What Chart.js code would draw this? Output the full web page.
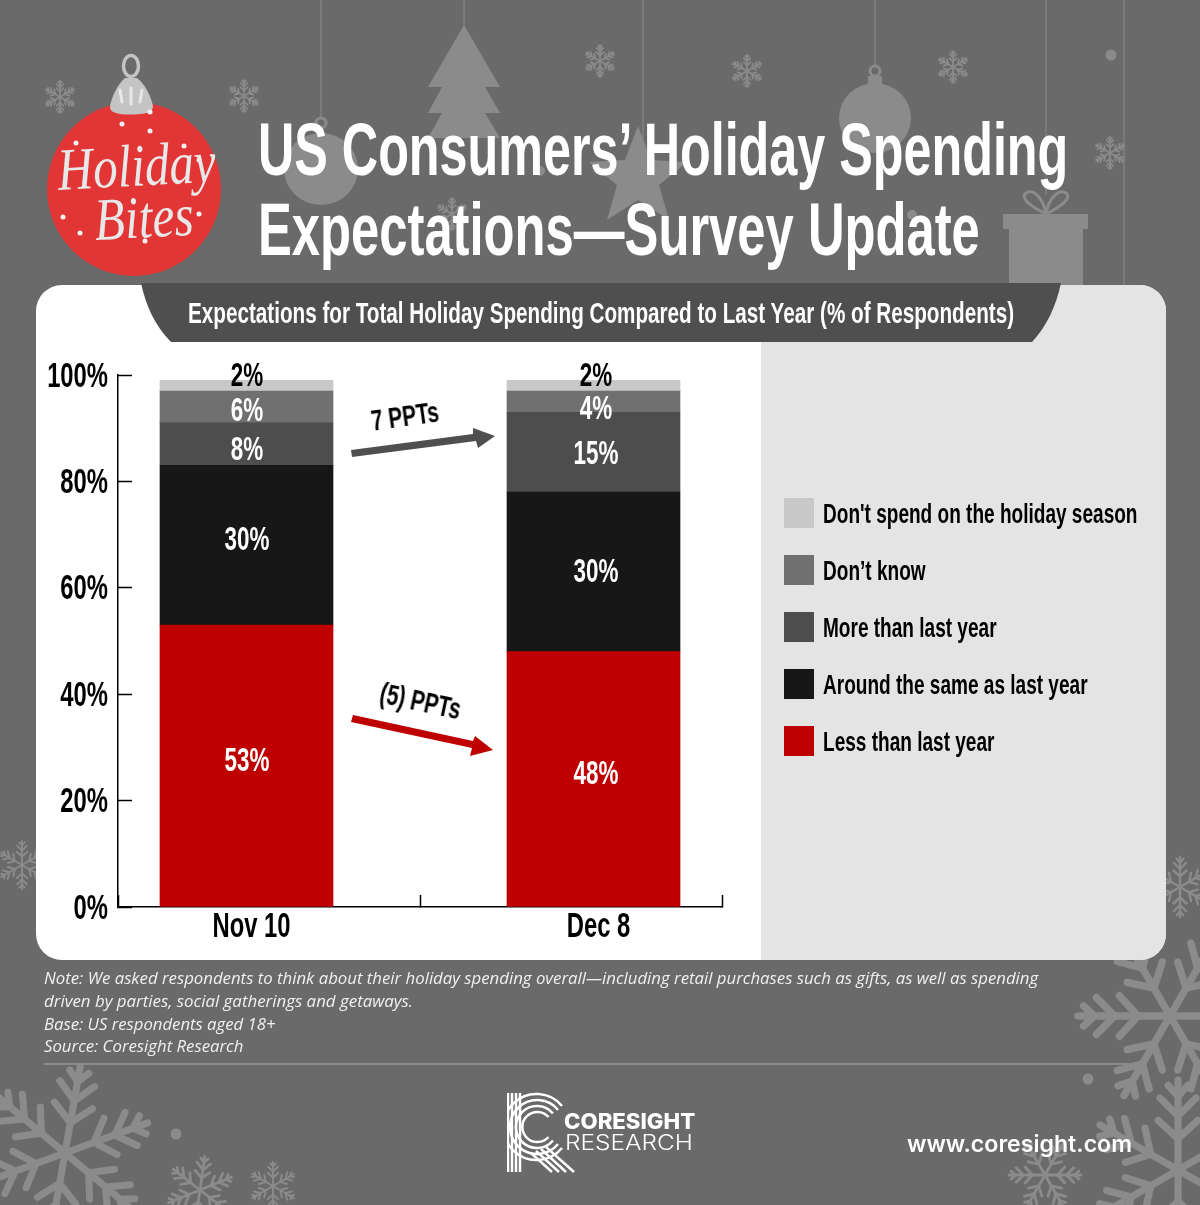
<!DOCTYPE html>
<html>
<head>
<meta charset="utf-8">
<title>US Consumers' Holiday Spending Expectations</title>
<script src="https://cdn.jsdelivr.net/npm/chart.js@4"></script>
<style>
html, body { margin: 0; padding: 0; }
#page { position: relative; width: 1200px; height: 1205px; background: #6a6a6a; overflow: hidden; font-family: "Liberation Sans", sans-serif; }
#page > * { position: absolute; }
#deco, #front, #stockCanvas { left: 0; top: 0; }
#card { left: 36px; top: 285px; width: 1130px; height: 675px; border-radius: 26px; background: #fff; overflow: hidden; }
#panel { position: absolute; left: 725px; top: 0; width: 405px; height: 675px; background: #e4e4e4; }
[data-w] { transform-origin: 0 0; white-space: nowrap; }
.title { left: 258px; color: #fff; font-weight: bold; font-size: 74px; line-height: 80px; }
#banner { left: 188px; top: 296px; color: #fff; font-weight: bold; font-size: 29px; line-height: 34px; }
.note { left: 44px; color: #f0f0f0; font-family: "Open Sans", sans-serif; font-style: italic; font-size: 17px; line-height: 22px; }
.ppt { font-weight: bold; font-size: 30px; line-height: 34px; color: #000; }
#url { left: 907px; top: 1129px; color: #fff; font-family: Inter, sans-serif; font-weight: 600; font-size: 22.5px; line-height: 30px; }
#brand1 { left: 564px; top: 1110px; color: #fff; font-family: Inter, sans-serif; font-weight: 800; font-size: 21px; line-height: 24px; }
#brand2 { left: 565px; top: 1131px; color: #fff; font-family: Inter, sans-serif; font-weight: 300; font-size: 21px; line-height: 24px; }
.script { color: #e8e8e8; font-family: "Liberation Serif", serif; font-style: italic; font-size: 60px; line-height: 60px; }
</style>
</head>
<body>
<div id="page">

<svg id="deco" width="1200" height="1205" viewBox="0 0 1200 1205">
	<defs>
		<g id="arm" fill="none" stroke-linecap="round">
			<path d="M0 0V-100"/>
			<path d="M0 -35L-22 -55M0 -35L22 -55M0 -60L-20 -80M0 -60L20 -80M0 -82L-11 -94M0 -82L11 -94"/>
		</g>
		<g id="flake">
			<use href="#arm"/>
			<use href="#arm" transform="rotate(60)"/>
			<use href="#arm" transform="rotate(120)"/>
			<use href="#arm" transform="rotate(180)"/>
			<use href="#arm" transform="rotate(240)"/>
			<use href="#arm" transform="rotate(300)"/>
		</g>
	</defs>

	<!-- hanging strings -->
	<g stroke="#8b8b8b" stroke-width="1">
		<path d="M321 0V118M464 0V26M643 0V140M875 0V67M1046 0V195M1124 0V285"/>
	</g>

	<!-- tree, baubles, star, gift -->
	<g fill="#8b8b8b">
		<path d="M464 25L500 87H485L500 113H485L500 138H428L442 113H428L442 87H428Z"/>
		<ellipse cx="321" cy="169" rx="37" ry="36"/>
		<ellipse cx="875" cy="118" rx="36" ry="35"/>
		<rect x="868" y="76" width="14" height="9"/>
		<path d="M638 126L651 160L687 162L659 185L669 220L638 200L607 220L617 185L589 162L625 160Z"/>
		<rect x="1003" y="214" width="85" height="15"/>
		<rect x="1009" y="229" width="74" height="58"/>
		<circle cx="540" cy="171" r="5"/>
		<circle cx="912" cy="215" r="5"/>
		<circle cx="1111" cy="55" r="5.5"/>
		<circle cx="1088" cy="1079" r="5.5"/>
		<circle cx="176" cy="1134" r="5.5"/>
	</g>
	<g fill="none" stroke="#8b8b8b" stroke-width="3">
		<circle cx="321" cy="123" r="5"/>
		<circle cx="875" cy="71" r="5"/>
		<path d="M1046 214C1030 206 1020 198 1026 193C1034 188 1044 200 1046 214C1048 200 1058 188 1066 193C1072 198 1062 206 1046 214Z"/>
	</g>

	<!-- snowflakes -->
	<g stroke="#8b8b8b" stroke-width="11">
		<use href="#flake" transform="translate(60 97) scale(.16)"/>
		<use href="#flake" transform="translate(244 96) scale(.16)"/>
		<use href="#flake" transform="translate(600 61) scale(.16)"/>
		<use href="#flake" transform="translate(747 71) scale(.16)"/>
		<use href="#flake" transform="translate(953 67) scale(.16)"/>
		<use href="#flake" transform="translate(1110 153) scale(.16)"/>
		<use href="#flake" transform="translate(452 214) scale(.16)"/>
	</g>
	<g stroke="#8b8b8b" stroke-width="8">
		<use href="#flake" transform="translate(22 865) scale(.24)"/>
		<use href="#flake" transform="translate(1180 887) scale(.3)"/>
		<use href="#flake" transform="translate(1170 1016) scale(.92) rotate(30)"/>
		<use href="#flake" transform="translate(65 1153) scale(.88) rotate(10)"/>
		<use href="#flake" transform="translate(1178 1170) scale(.9)"/>
		<use href="#flake" transform="translate(1045 1175) scale(.36) rotate(30)"/>
		<use href="#flake" transform="translate(200 1190) scale(.34) rotate(8)"/>
		<use href="#flake" transform="translate(273 1186) scale(.24)"/>
	</g>
</svg>

<div id="card"><div id="panel"></div></div>

<svg id="front" width="1200" height="1205" viewBox="0 0 1200 1205">
	<defs>
		<clipPath id="logoClip"><rect x="507" y="1085" width="80" height="95"/></clipPath>
	</defs>

	<!-- banner across the top of the card -->
	<path d="M141 283H1061C1056 306 1047 326 1032 342H171C155 326 146 306 141 283Z" fill="#4f4f4f"/>

	<!-- red bauble -->
	<circle cx="134" cy="189" r="87" fill="#e23535"/>
	<path d="M110 106C112 96 118 84 125 78H137C145 84 151 96 153 106C153 110 150 112 147 113C136 115 122 115 116 113C112 112 110 110 110 106Z" fill="#c4c4c4"/>
	<ellipse cx="131" cy="66" rx="7.5" ry="10.5" fill="none" stroke="#c4c4c4" stroke-width="3.5"/>
	<path d="M122 102L120 90M131 104V88M140 102L142 90" stroke="#e8e8e8" stroke-width="3" stroke-linecap="round"/>
	<g fill="#f3f3f3">
		<circle cx="150" cy="112" r="2.5"/><circle cx="122" cy="124" r="2.5"/><circle cx="150" cy="131" r="2.5"/>
		<circle cx="76" cy="143" r="2.5"/><circle cx="184" cy="146" r="2.5"/><circle cx="199" cy="160" r="2.5"/>
		<circle cx="63" cy="217" r="2.5"/><circle cx="80" cy="233" r="2.5"/><circle cx="199" cy="214" r="2.5"/>
		<circle cx="145" cy="241" r="2.5"/>
	</g>

	<!-- change arrows between the bars -->
	<path d="M351 450L473 434L473 428L495 436L478 448L476 441L352 457Z" fill="#4f4f4f"/>
	<path d="M353 715L473 741L475 736L493 750L470 756L472 748L351 722Z" fill="#bf0000"/>

	<!-- logo mark -->
	<g fill="none" stroke="#fff" stroke-width="2.5" clip-path="url(#logoClip)">
		<path d="M508 1172V1093M512 1172V1093M516 1172V1093M520 1172V1093"/>
		<path d="M562 1106A33 33 0 1 0 562 1148M558 1110A27 27 0 1 0 558 1144M553 1113.5A21 21 0 1 0 553 1140.5M548.5 1117A15 15 0 1 0 548.5 1137"/>
		<path d="M531 1153L552 1172M536 1151L559 1172M541 1149L566 1172M546 1147L574 1172"/>
	</g>
</svg>

<canvas id="stockCanvas" width="1200" height="1205"></canvas>

<div class="title" data-w="810" style="top:110px">US Consumers’ Holiday Spending</div>
<div class="title" data-w="722" style="top:190px">Expectations—Survey Update</div>
<div id="banner" data-w="826">Expectations for Total Holiday Spending Compared to Last Year (% of Respondents)</div>

<div class="ppt" data-w="68" data-rot="-8" style="left:369px; top:404px">7 PPTs</div>
<div class="ppt" data-w="82" data-rot="12" style="left:384px; top:676px">(5) PPTs</div>

<div class="script" data-w="158" data-rot="-3" style="left:56px; top:140px">Holiday</div>
<div class="script" data-w="99" data-rot="-3" style="left:93px; top:190px">Bites</div>

<div class="note" data-w="994" style="top:967px">Note: We asked respondents to think about their holiday spending overall—including retail purchases such as gifts, as well as spending</div>
<div class="note" data-w="369" style="top:990px">driven by parties, social gatherings and getaways.</div>
<div class="note" data-w="232" style="top:1013px">Base: US respondents aged 18+</div>
<div class="note" data-w="199" style="top:1035px">Source: Coresight Research</div>
<div style="left:44px; top:1063px; width:1096px; height:2px; background:#8b8b8b"></div>

<div id="brand1" data-w="131">CORESIGHT</div>
<div id="brand2" data-w="128">RESEARCH</div>
<div id="url" data-w="225">www.coresight.com</div>
</div>

<script>
////////////data////////////
var categories = ['Nov 10', 'Dec 8'];
var lessThanLastYear = [53, 48];
var sameAsLastYear = [30, 30];
var moreThanLastYear = [8, 15];
var dontKnow = [6, 4];
var dontSpend = [2, 2];

var seriesNames = ["Less than last year", "Around the same as last year", "More than last year", "Don’t know", "Don't spend on the holiday season"];
var seriesColors = ['#bf0000', '#171717', '#4d4d4d', '#707070', '#c8c8c8'];
var seriesValues = [lessThanLastYear, sameAsLastYear, moreThanLastYear, dontKnow, dontSpend];

////////////page text////////////
//no condensed face is installed, squeeze each line to the width it has in the original
document.querySelectorAll('[data-w]').forEach(function(el) {
	var rot = el.dataset.rot ? 'rotate(' + el.dataset.rot + 'deg) ' : '';
	el.style.transform = rot + 'scaleX(' + (el.dataset.w / el.offsetWidth) + ')';
});

////////////canvas text////////////
var canvas = document.getElementById('stockCanvas');
var ctx = canvas.getContext('2d');
var chartFont = '"Liberation Sans", sans-serif';
var squeeze = 0.68;

//same squeeze for all chart text, fillText's maxWidth scales the glyphs
var rawFillText = ctx.fillText.bind(ctx);
ctx.fillText = function(text, x, y) {
	var isLegend = seriesNames.indexOf(text) >= 0; //legend text sits closer to its box and a bit lower
	rawFillText(text, x - (isLegend ? 5 : 0), y + (isLegend ? 2 : 0), ctx.measureText(text).width * squeeze);
};

////////////plugins////////////
//bars are not centred in their half of the axis in the original, so widen the bar scale only
var placeBoxes = {
	id: 'placeBoxes',
	afterLayout: function(chart) {
		var x = chart.scales.x;
		x.left = 73;
		x.right = 767;
		x.width = 694;
		x.configure();

		var legend = chart.legend;
		legend.left = 784 - legend.options.labels.padding;
		legend.top = 498 - legend.options.labels.padding;
		legend.right = legend.left + legend.width;
		legend.bottom = legend.top + legend.height;
		legend.adjustHitBoxes();
	}
};

//percent labels on the segments, nudged per segment [dataset][bar]
var labelNudge = [[-4, -4], [-4, 1], [7, 3], [5, 8], [-9, -9]];
var segmentLabels = {
	id: 'segmentLabels',
	afterDatasetsDraw: function(chart) {
		var c = chart.ctx;
		c.save();
		c.font = 'bold 33px ' + chartFont;
		c.textAlign = 'center';
		c.textBaseline = 'middle';
		chart.data.datasets.forEach(function(ds, i) {
			chart.getDatasetMeta(i).data.forEach(function(bar, j) {
				c.fillStyle = i === 4 ? '#000' : '#fff';
				c.fillText(ds.data[j] + '%', bar.x + (j === 1 ? 2.5 : 0.5), (bar.y + bar.base) / 2 + labelNudge[i][j]);
			});
		});
		c.restore();
	}
};

////////////create chart////////////
var myChart = new Chart(canvas, {
	type: 'bar',
	data: {
		labels: categories,
		datasets: seriesValues.map(function(values, i) {
			return { label: seriesNames[i], data: values, backgroundColor: seriesColors[i], barThickness: 173 };
		})
	},
	options: {
		responsive: false,
		animation: false,
		layout: { padding: { left: 0, top: 375, right: 478, bottom: 248 } },
		plugins: {
			title: { display: false },
			tooltip: { enabled: false },
			legend: {
				position: 'chartArea',
				align: 'start',
				reverse: true,
				onClick: null,
				labels: {
					boxWidth: 30,
					boxHeight: 30,
					padding: 27,
					color: '#000',
					font: { family: chartFont, size: 28, weight: 'bold' }
				}
			}
		},
		scales: {
			x: {
				stacked: true,
				weight: 1,
				border: { display: false },
				grid: { display: false, drawTicks: false },
				ticks: {
					color: '#000',
					padding: -1,
					labelOffset: 5,
					maxRotation: 0,
					autoSkip: false,
					font: { family: chartFont, size: 35, weight: 'bold' }
				},
				afterFit: function(scale) { scale.height = 50; }
			},
			//only carries the axis line and the ticks at both ends and in the middle
			//bar charts default x scales to offset, which would put the ticks between values
			axisLine: {
				type: 'linear',
				position: 'bottom',
				weight: 0,
				min: 0,
				max: 2,
				offset: false,
				border: { display: true, color: '#000', width: 1.5 },
				grid: { offset: false, drawOnChartArea: false, tickLength: -12, tickColor: '#000', tickWidth: 1.5 },
				ticks: { display: false, count: 3 },
				afterFit: function(scale) { scale.height = 0; }
			},
			y: {
				stacked: true,
				min: 0,
				max: 100,
				border: { display: true, color: '#000', width: 1.5 },
				grid: { drawOnChartArea: false, tickLength: -14, tickColor: '#000', tickWidth: 1.5 },
				ticks: {
					stepSize: 20,
					color: '#000',
					padding: 24,
					labelOffset: 2,
					font: { family: chartFont, size: 35, weight: 'bold' },
					callback: function(value) { return value + '%'; }
				},
				afterFit: function(scale) { scale.width = 118; }
			}
		}
	},
	plugins: [placeBoxes, segmentLabels]
}); //end new Chart
</script>
</body>
</html>
